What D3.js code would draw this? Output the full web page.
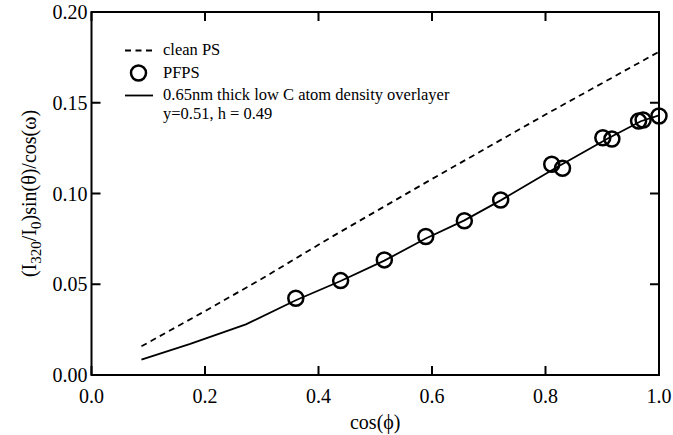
<!DOCTYPE html>
<html>
<head>
<meta charset="utf-8">
<script src="https://cdn.jsdelivr.net/npm/d3@7"></script>
<style>
    body { margin: 0; background: #fff; }
    svg { font-family: "Liberation Serif", "Times New Roman", serif; }
    .frame { fill: none; stroke: #000; stroke-width: 2; }
    .tick-mark { stroke: #000; stroke-width: 2; }
</style>
</head>
<body>
<div id="chart"></div>
<script>
// measured data (PFPS circles)
var pfpsX = [0.360, 0.439, 0.516, 0.589, 0.657, 0.721, 0.811, 0.830, 0.901, 0.917, 0.964, 0.972, 1.000];
var pfpsY = [0.0423, 0.0520, 0.0634, 0.0763, 0.0850, 0.0964, 0.1161, 0.1139, 0.1307, 0.1300, 0.1399, 0.1405, 0.1427];

// clean PS calculation (dashed)
var cleanX = [0.088, 0.2, 0.3, 0.42, 0.6, 0.8, 1.0];
var cleanY = [0.0158, 0.0352, 0.0530, 0.0755, 0.1080, 0.1435, 0.1781];

// overlayer model (solid)
var modelX = [0.088, 0.174, 0.272, 0.360, 0.439, 0.516, 0.589, 0.657, 0.721, 0.820, 0.909, 0.968, 1.000];
var modelY = [0.0085, 0.0172, 0.0279, 0.0412, 0.0518, 0.0630, 0.0752, 0.0852, 0.0962, 0.1145, 0.1302, 0.1398, 0.1430];

var xTicks = [0.0, 0.2, 0.4, 0.6, 0.8, 1.0];
var yTicks = [0.00, 0.05, 0.10, 0.15, 0.20];

var margin = { top: 12, right: 14, bottom: 60, left: 91.5 },
    width = 673 - margin.left - margin.right,
    height = 435 - margin.top - margin.bottom;

var svg = d3.select("#chart").append("svg")
    .attr("width", 673)
    .attr("height", 435);

var g = svg.append("g")
    .attr("transform", "translate(" + margin.left + "," + margin.top + ")");

var x = d3.scaleLinear().domain([0, 1]).range([0, width]);
var y = d3.scaleLinear().domain([0, 0.2]).range([height, 0]);

var tickLen = 9;

// inward ticks on all four sides
xTicks.forEach(function(t) {
    g.append("line").attr("class", "tick-mark")
        .attr("x1", x(t)).attr("x2", x(t)).attr("y1", height).attr("y2", height - tickLen);
    g.append("line").attr("class", "tick-mark")
        .attr("x1", x(t)).attr("x2", x(t)).attr("y1", 0).attr("y2", tickLen);
    g.append("text")
        .attr("x", x(t))
        .attr("y", height + 28)
        .attr("text-anchor", "middle")
        .style("font-size", "20px")
        .text(d3.format(".1f")(t));
});

yTicks.forEach(function(t) {
    g.append("line").attr("class", "tick-mark")
        .attr("x1", 0).attr("x2", tickLen).attr("y1", y(t)).attr("y2", y(t));
    g.append("line").attr("class", "tick-mark")
        .attr("x1", width).attr("x2", width - tickLen).attr("y1", y(t)).attr("y2", y(t));
    g.append("text")
        .attr("x", -4)
        .attr("y", y(t) + 7)
        .attr("text-anchor", "end")
        .style("font-size", "20px")
        .text(d3.format(".2f")(t));
});

g.append("rect").attr("class", "frame")
    .attr("width", width).attr("height", height);

var line = d3.line()
    .x(function(d) { return x(d[0]); })
    .y(function(d) { return y(d[1]); });

var cleanData = cleanX.map(function(v, i) { return [v, cleanY[i]]; });
var modelData = modelX.map(function(v, i) { return [v, modelY[i]]; });
var pfpsData = pfpsX.map(function(v, i) { return [v, pfpsY[i]]; });

g.append("path")
    .datum(cleanData)
    .attr("fill", "none")
    .attr("stroke", "#000")
    .attr("stroke-width", 1.8)
    .attr("stroke-dasharray", "6,4.5")
    .attr("d", line);

g.append("path")
    .datum(modelData)
    .attr("fill", "none")
    .attr("stroke", "#000")
    .attr("stroke-width", 1.8)
    .attr("d", line);

g.selectAll(".pfps")
    .data(pfpsData)
    .enter().append("circle")
    .attr("class", "pfps")
    .attr("cx", function(d) { return x(d[0]); })
    .attr("cy", function(d) { return y(d[1]); })
    .attr("r", 7.5)
    .attr("fill", "none")
    .attr("stroke", "#000")
    .attr("stroke-width", 2.5);

// legend
var legend = svg.append("g").style("font-size", "16.5px");
legend.append("line")
    .attr("x1", 125).attr("x2", 153).attr("y1", 50.5).attr("y2", 50.5)
    .attr("stroke", "#000").attr("stroke-width", 1.8).attr("stroke-dasharray", "6,4.5");
legend.append("text").attr("x", 163).attr("y", 55).text("clean PS");
legend.append("circle")
    .attr("cx", 138.5).attr("cy", 73).attr("r", 7.5)
    .attr("fill", "none").attr("stroke", "#000").attr("stroke-width", 2.5);
legend.append("text").attr("x", 163).attr("y", 78).text("PFPS");
legend.append("line")
    .attr("x1", 125).attr("x2", 153).attr("y1", 95.5).attr("y2", 95.5)
    .attr("stroke", "#000").attr("stroke-width", 1.8);
legend.append("text").attr("x", 163).attr("y", 100).text("0.65nm thick low C atom density overlayer");
legend.append("text").attr("x", 163).attr("y", 119).text("y=0.51, h = 0.49");

// axis labels
svg.append("text")
    .attr("x", margin.left + width / 2)
    .attr("y", 429)
    .attr("text-anchor", "middle")
    .style("font-size", "20px")
    .text("cos(\u03D5)");

var ylab = svg.append("text")
    .attr("transform", "translate(36," + (margin.top + height / 2) + ") rotate(-90)")
    .attr("text-anchor", "middle")
    .style("font-size", "20px");
ylab.append("tspan").text("(I");
ylab.append("tspan").attr("baseline-shift", "-30%").style("font-size", "15px").text("320");
ylab.append("tspan").text("/I");
ylab.append("tspan").attr("baseline-shift", "-30%").style("font-size", "15px").text("0");
ylab.append("tspan").text(")sin(\u03B8)/cos(\u03C9)");
</script>
</body>
</html>
